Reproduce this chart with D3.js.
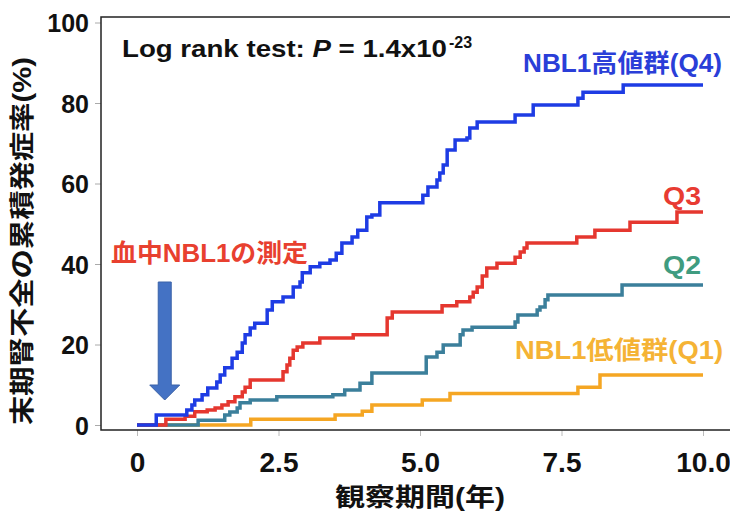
<!DOCTYPE html>
<html>
<head>
<meta charset="utf-8">
<script src="https://cdn.jsdelivr.net/npm/d3@7"></script>
<style>
	body { margin: 0; background: #fff; }
	svg text { font-family: "Liberation Sans", Arial, "Noto Sans CJK JP", sans-serif; font-weight: bold; }
</style>
</head>
<body>
<div id="chart"></div>
<script>
// Cumulative incidence (%) by NBL1 quartile
const q1Times = [0, 2.01, 3.50, 3.98, 4.15, 5.04, 5.53, 7.79, 8.18, 10];
const q1Rates = [0, 1.4, 2.5, 3.4, 5.0, 6.2, 7.8, 9.4, 12.4, 12.4];

const q2Times = [0, 1.08, 1.55, 1.64, 1.77, 1.82, 2.00, 2.47, 3.46, 3.67, 3.94, 4.15, 5.11, 5.30, 5.41, 5.71, 5.76, 5.92, 6.68, 6.73, 7.07, 7.12, 7.21, 7.26, 8.57, 10];
const q2Rates = [0, 1.2, 2.5, 3.2, 4.2, 5.5, 6.2, 7.0, 7.5, 8.7, 10.4, 12.9, 16.9, 18.1, 19.9, 22.4, 23.6, 24.3, 25.6, 27.3, 28.6, 29.3, 31.1, 32.3, 34.8, 34.8];

const q3Times = [0, 0.51, 0.85, 1.02, 1.24, 1.38, 1.50, 1.61, 1.73, 1.86, 1.91, 2.00, 2.58, 2.65, 2.70, 2.76, 2.83, 2.93, 3.23, 3.82, 4.42, 4.51, 5.39, 5.65, 5.88, 5.94, 6.01, 6.10, 6.18, 6.36, 6.68, 6.77, 6.84, 6.89, 7.77, 8.09, 8.71, 9.54, 10];
const q3Rates = [0, 1.4, 2.2, 3.3, 3.7, 4.2, 5.0, 5.8, 7.0, 8.2, 9.4, 11.2, 13.2, 14.9, 16.6, 18.6, 19.4, 20.4, 21.6, 22.4, 26.6, 28.1, 29.6, 30.6, 31.8, 33.0, 34.3, 37.0, 39.0, 40.2, 41.7, 43.0, 44.0, 45.2, 46.7, 48.4, 50.4, 52.9, 52.9];

const q4Times = [0, 0.34, 0.88, 0.97, 1.02, 1.15, 1.25, 1.41, 1.47, 1.55, 1.68, 1.77, 1.86, 1.91, 2.00, 2.08, 2.30, 2.39, 2.58, 2.76, 2.88, 2.92, 3.06, 3.23, 3.41, 3.52, 3.62, 3.80, 3.90, 4.06, 4.15, 4.29, 5.05, 5.14, 5.30, 5.35, 5.41, 5.48, 5.62, 5.83, 5.88, 6.01, 6.68, 7.00, 7.79, 7.88, 8.59, 10];
const q4Rates = [0, 2.5, 3.7, 5.0, 6.2, 7.5, 9.2, 10.7, 12.4, 14.2, 16.6, 18.1, 20.4, 22.4, 24.1, 25.3, 28.6, 30.6, 31.8, 34.3, 35.5, 37.8, 39.3, 40.2, 41.0, 42.7, 45.2, 46.7, 48.4, 51.7, 52.2, 55.2, 57.1, 59.1, 60.9, 62.6, 64.6, 68.3, 70.8, 71.3, 73.8, 75.3, 77.0, 79.5, 81.2, 82.7, 84.5, 84.5];

const xTicks = [0, 2.5, 5, 7.5, 10];
const xTickLabels = ['0', '2.5', '5.0', '7.5', '10.0'];
const yTicks = [0, 20, 40, 60, 80, 100];

const width = 730, height = 511;
const frame = {left: 101, top: 17, right: 731, bottom: 430};

const svg = d3.select('#chart').append('svg')
	.attr('width', width)
	.attr('height', height);

const x = d3.scaleLinear().domain([0, 10]).range([137, 703]);
const y = d3.scaleLinear().domain([0, 100]).range([425, 22.5]);

// y axis ticks + labels
const yAxis = svg.append('g')
	.attr('transform', `translate(${frame.left},0)`)
	.call(d3.axisLeft(y).tickValues(yTicks).tickSize(6).tickPadding(6));
yAxis.select('.domain').remove();
yAxis.selectAll('line').attr('stroke', '#aaa');
yAxis.selectAll('text')
	.style('font-size', '25px')
	.attr('fill', '#111')
	.attr('dy', '0.36em');

// x axis ticks + labels
const xAxis = svg.append('g')
	.attr('transform', `translate(0,${frame.bottom})`)
	.call(d3.axisBottom(x).tickValues(xTicks).tickFormat((d, i) => xTickLabels[i]).tickSize(6).tickPadding(16));
xAxis.select('.domain').remove();
xAxis.selectAll('line').attr('stroke', '#bbb');
xAxis.selectAll('text')
	.style('font-size', '28px')
	.attr('fill', '#111');

// frame (left, top, bottom)
svg.append('path')
	.attr('d', `M${frame.right},${frame.top}H${frame.left}V${frame.bottom}H${frame.right}`)
	.attr('fill', 'none')
	.attr('stroke', '#222')
	.attr('stroke-width', 1.5);

// step curves, lowest quartile drawn first so Q4 sits on top
const series = [
	{times: q1Times, rates: q1Rates, color: '#f5a623'},
	{times: q2Times, rates: q2Rates, color: '#3b7f9b'},
	{times: q3Times, rates: q3Rates, color: '#e5372f'},
	{times: q4Times, rates: q4Rates, color: '#1e3ce4'}
];

const line = d3.line()
	.x(d => x(d[0]))
	.y(d => y(d[1]))
	.curve(d3.curveStepAfter);

svg.append('g')
	.selectAll('path')
	.data(series)
	.enter()
		.append('path')
		.attr('d', d => line(d.times.map((t, i) => [t, d.rates[i]])))
		.attr('fill', 'none')
		.attr('stroke', d => d.color)
		.attr('stroke-width', 3.5)
		.attr('stroke-linejoin', 'miter');

// log rank annotation
const lr = svg.append('text')
	.attr('x', 122)
	.attr('y', 57)
	.attr('textLength', 325)
	.attr('lengthAdjust', 'spacingAndGlyphs')
	.style('font-size', '24px')
	.attr('fill', '#111');
lr.append('tspan').text('Log rank test: ');
lr.append('tspan').style('font-style', 'italic').text('P');
lr.append('tspan').text(' = 1.4x10');
svg.append('text')
	.attr('x', 449)
	.attr('y', 48)
	.style('font-size', '16px')
	.attr('fill', '#111')
	.text('-23');

// group labels
const labels = [
	{text: 'NBL1高値群(Q4)', x: 523, y: 72, w: 199, color: '#2a3ed8'},
	{text: 'Q3', x: 663, y: 205, w: 38, color: '#e83b32'},
	{text: 'Q2', x: 663, y: 274, w: 38, color: '#3f9c80'},
	{text: 'NBL1低値群(Q1)', x: 515, y: 359, w: 208, color: '#f5b335'},
	{text: '血中NBL1の測定', x: 111, y: 262, w: 197, color: '#e8402f'}
];
svg.append('g')
	.selectAll('text')
	.data(labels)
	.enter()
		.append('text')
		.attr('x', d => d.x)
		.attr('y', d => d.y)
		.attr('textLength', d => d.w)
		.attr('lengthAdjust', 'spacingAndGlyphs')
		.attr('fill', d => d.color)
		.style('font-size', '25px')
		.text(d => d.text);

// measurement arrow
const ax = x(0.49);
svg.append('path')
	.attr('d', `M${ax - 6.5},282 H${ax + 6.5} V385 H${ax + 15} L${ax},400 L${ax - 15},385 H${ax - 6.5} Z`)
	.attr('fill', '#4472c4')
	.attr('stroke', '#3a62a8')
	.attr('stroke-width', 1);

// axis titles
svg.append('text')
	.attr('transform', 'translate(31,241) rotate(-90)')
	.attr('text-anchor', 'middle')
	.attr('textLength', 368)
	.attr('lengthAdjust', 'spacingAndGlyphs')
	.style('font-size', '25px')
	.attr('fill', '#111')
	.text('末期腎不全の累積発症率(%)');

svg.append('text')
	.attr('x', 420)
	.attr('y', 506)
	.attr('text-anchor', 'middle')
	.attr('textLength', 170)
	.attr('lengthAdjust', 'spacingAndGlyphs')
	.style('font-size', '25px')
	.attr('fill', '#111')
	.text('観察期間(年)');
</script>
</body>
</html>
